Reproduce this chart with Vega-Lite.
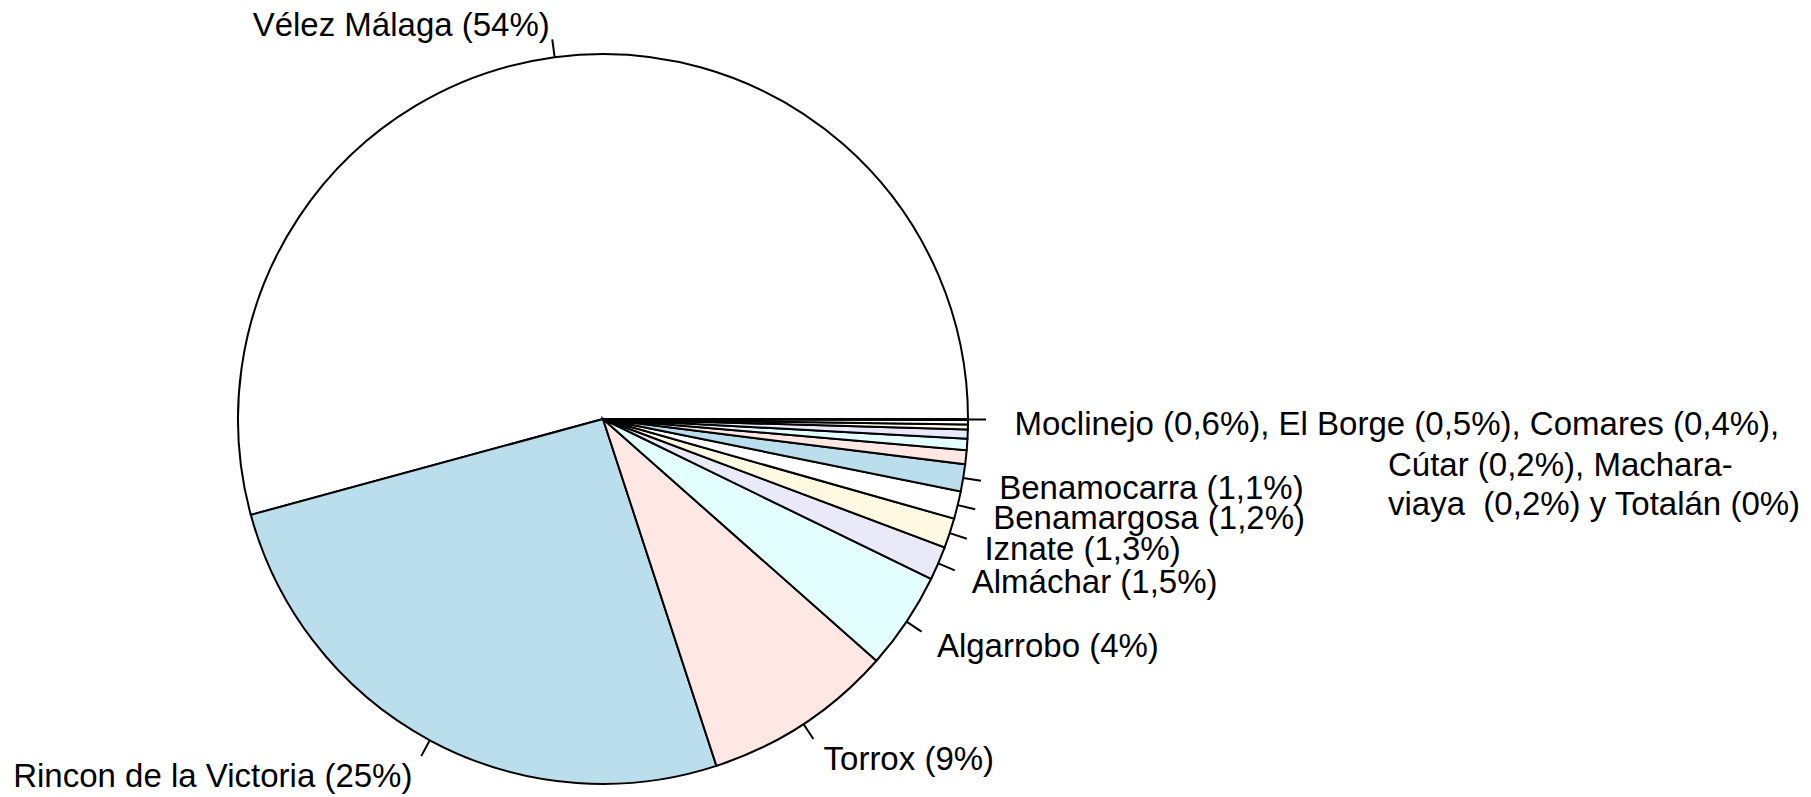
{
  "$schema": "https://vega.github.io/schema/vega-lite/v6.json",
  "width": 1206,
  "height": 756,
  "autosize": "none",
  "padding": {"left": 0, "top": 41, "right": 605, "bottom": 0},
  "background": "white",
  "config": {"view": {"stroke": null}, "text": {"font": "Liberation Sans", "fontSize": 33, "color": "black"}},
  "data": {
    "values": [
      {"idx": 1, "name": "Vélez Málaga", "v": 54.23, "label": "Vélez Málaga (54%)", "label2": ""},
      {"idx": 2, "name": "Rincon de la Victoria", "v": 25.8, "label": "Rincon de la Victoria (25%)", "label2": ""},
      {"idx": 3, "name": "Torrox", "v": 8.45, "label": "Torrox (9%)", "label2": ""},
      {"idx": 4, "name": "Algarrobo", "v": 4.3, "label": "Algarrobo (4%)", "label2": ""},
      {"idx": 5, "name": "Almáchar", "v": 1.5, "label": "Almáchar (1,5%)", "label2": ""},
      {"idx": 6, "name": "Iznate", "v": 1.32, "label": "Iznate (1,3%)", "label2": ""},
      {"idx": 7, "name": "Benamargosa", "v": 1.22, "label": "Benamargosa (1,2%)", "label2": ""},
      {"idx": 8, "name": "Benamocarra", "v": 1.2, "label": "Benamocarra (1,1%)", "label2": ""},
      {"idx": 9, "name": "Moclinejo", "v": 0.62, "label": "", "label2": ""},
      {"idx": 10, "name": "El Borge", "v": 0.5, "label": "", "label2": ""},
      {"idx": 11, "name": "Comares", "v": 0.4, "label": "", "label2": ""},
      {"idx": 12, "name": "Cútar", "v": 0.22, "label": "", "label2": ""},
      {"idx": 13, "name": "Macharaviaya", "v": 0.2, "label": "", "label2": ""},
      {"idx": 14, "name": "Totalán", "v": 0.04, "label": "Moclinejo (0,6%), El Borge (0,5%), Comares (0,4%),", "label2": "Cútar (0,2%), Machara-\nviaya\u00a0 (0,2%) y Totalán (0%)"}
    ]
  },
  "transform": [
    {"stack": "v", "groupby": [], "sort": [{"field": "idx", "order": "ascending"}], "as": ["v0", "v1"]},
    {"calculate": "(datum.v0 + datum.v1) / 2", "as": "vm"}
  ],
  "layer": [
    {
      "mark": {"type": "arc", "outerRadius": 365, "stroke": "black", "strokeWidth": 2},
      "encoding": {
        "theta": {"field": "v0", "type": "quantitative", "stack": null, "scale": {"domain": [0, 100], "range": [1.5707963, -4.712389], "nice": false, "zero": false}},
        "theta2": {"field": "v1"},
        "color": {
          "field": "name", "type": "nominal", "legend": null,
          "scale": {
            "domain": ["Vélez Málaga", "Rincon de la Victoria", "Torrox", "Algarrobo", "Almáchar", "Iznate", "Benamargosa", "Benamocarra", "Moclinejo", "El Borge", "Comares", "Cútar", "Macharaviaya", "Totalán"],
            "range": ["#FFFFFF", "#BADEEB", "#FFE8E4", "#E3FFFF", "#E9E9FA", "#FFF9E2", "#FFFFFF", "#BADEEB", "#FFE8E4", "#E3FFFF", "#E9E9FA", "#FFF9E2", "#FFFFFF", "#BADEEB"]
          }
        }
      }
    },
    {
      "transform": [{"filter": "datum.label != ''"}],
      "mark": {"type": "arc", "innerRadius": 365, "outerRadius": 383, "stroke": "black", "strokeWidth": 2, "fillOpacity": 0},
      "encoding": {
        "theta": {"field": "vm", "type": "quantitative", "stack": null, "scale": {"domain": [0, 100], "range": [1.5707963, -4.712389], "nice": false, "zero": false}},
        "theta2": {"field": "vm"}
      }
    },
    {
      "transform": [{"filter": "datum.label != '' && datum.label2 == '' && (datum.vm < 25 || datum.vm > 75)"}],
      "mark": {"type": "text", "radius": 401.5, "align": "left", "baseline": "alphabetic", "dy": 15},
      "encoding": {
        "theta": {"field": "vm", "type": "quantitative", "stack": null, "scale": {"domain": [0, 100], "range": [1.5707963, -4.712389], "nice": false, "zero": false}},
        "text": {"field": "label"}
      }
    },
    {
      "transform": [{"filter": "datum.label != '' && datum.vm >= 25 && datum.vm <= 75"}],
      "mark": {"type": "text", "radius": 401.5, "align": "right", "baseline": "alphabetic", "dy": 15},
      "encoding": {
        "theta": {"field": "vm", "type": "quantitative", "stack": null, "scale": {"domain": [0, 100], "range": [1.5707963, -4.712389], "nice": false, "zero": false}},
        "text": {"field": "label"}
      }
    },
    {
      "transform": [{"filter": "datum.label2 != ''"}],
      "mark": {"type": "text", "radius": 401.5, "align": "left", "baseline": "alphabetic", "dx": 10, "dy": 15},
      "encoding": {
        "theta": {"field": "vm", "type": "quantitative", "stack": null, "scale": {"domain": [0, 100], "range": [1.5707963, -4.712389], "nice": false, "zero": false}},
        "text": {"field": "label"}
      }
    },
    {
      "transform": [{"filter": "datum.label2 != ''"}],
      "mark": {"type": "text", "radius": 401.5, "align": "left", "baseline": "alphabetic", "dx": 383.5, "dy": 56.5, "lineHeight": 39, "lineBreak": "\n"},
      "encoding": {
        "theta": {"field": "vm", "type": "quantitative", "stack": null, "scale": {"domain": [0, 100], "range": [1.5707963, -4.712389], "nice": false, "zero": false}},
        "text": {"field": "label2"}
      }
    }
  ]
}
